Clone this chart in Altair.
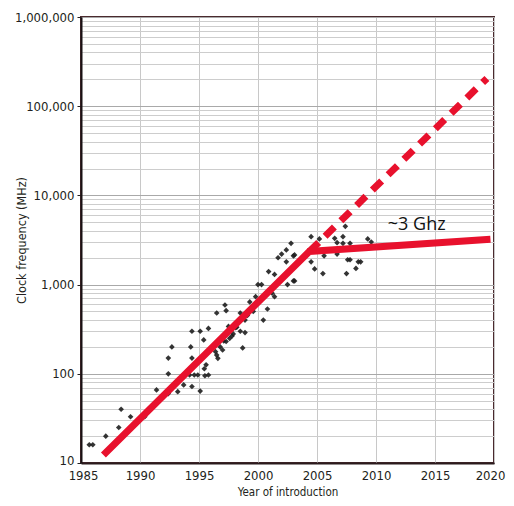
import altair as alt
import pandas as pd

# ---- data ----
years = [1985.7, 1986.0, 1987.1, 1988.2, 1988.4, 1989.2, 1990.4, 1991.4,
         1992.4, 1992.4, 1992.7, 1992.4, 1992.6, 1993.2, 1993.7,
         1994.3, 1994.4, 1994.4, 1994.2, 1994.6, 1994.4, 1994.9, 1995.1,
         1995.1, 1995.45, 1995.6, 1995.4, 1995.5, 1995.8, 1995.8,
         1996.5, 1996.3, 1996.4, 1996.5, 1996.6, 1996.8, 1997.0,
         1997.2, 1997.3, 1997.1, 1997.3, 1997.5, 1997.6, 1997.8,
         1998.5, 1998.2, 1998.5, 1998.9, 1998.7, 1998.9, 1999.1, 1999.3,
         1999.6, 1999.8, 2000.0, 2000.3, 2000.5, 2000.8, 2000.45,
         2001.4, 2001.2, 2000.9, 2001.4, 2002.5, 2003.0, 2001.7, 2002.0,
         2002.4, 2003.0, 2002.8, 2002.4, 2003.1, 2004.5, 2004.8, 2005.5,
         2005.6, 2006.7, 2007.5, 2007.6, 2007.8, 2008.3, 2008.5, 2008.7,
         2007.4, 2004.5, 2005.2, 2006.5, 2006.7, 2007.2, 2007.8, 2009.3,
         2009.6, 2007.2, 2003.1, 1997.9, 1998.1]
mhz = [16, 16, 20, 25, 40, 33, 33, 66,
       100, 150, 200, 60, 66, 63, 75,
       200, 300, 150, 97, 97, 72, 97, 64,
       300, 114, 126, 240, 95, 323, 97,
       480, 210, 177, 162, 149, 200, 185,
       590, 510, 233, 230, 340, 250, 266,
       480, 333, 300, 290, 195, 400, 450, 640,
       500, 733, 1000, 1000, 750, 533, 400,
       733, 800, 1400, 1300, 1000, 1100, 2000, 2200,
       1800, 2100, 2900, 2450, 2150, 1800, 1500, 1330,
       2100, 2200, 1330, 1900, 1900, 1520, 1800, 1800,
       4500, 3450, 3250, 3300, 2950, 2900, 2900, 3250,
       3000, 3450, 1100, 280, 330]

trend_years = [1986.9, 2004.35, 2019.7]
trend_mhz = [12.3, 2350, 3220]
proj_years = [2004.35, 2019.4]
proj_mhz = [2350, 205000]
label_year = [2011.0]
label_mhz = [4650]
label_text = ["~3 Ghz"]
x_ticks = [1985, 1990, 1995, 2000, 2005, 2010, 2015, 2020]
y_grid = [m * 10 ** k for k in range(1, 6) for m in range(1, 10)] + [1000000]

pts = pd.DataFrame({"year": years, "mhz": mhz})
trend = pd.DataFrame({"year": trend_years, "mhz": trend_mhz})
proj = pd.DataFrame({"year": proj_years, "mhz": proj_mhz})
lab = pd.DataFrame({"year": label_year, "mhz": label_mhz, "text": label_text})

FONT = "Liberation Sans Narrow, DejaVu Sans Condensed, sans-serif"
INK = "#231f20"
RED = "#e8112d"
MAJOR = "abs(log(datum.value)/LN10 - round(log(datum.value)/LN10)) < 0.001"

xs = alt.Scale(domain=[1985, 2020], nice=False, zero=False)
ys = alt.Scale(type="log", domain=[10, 1000000], nice=False)

x_axis = alt.Axis(
    values=x_ticks, format="d", title="Year of introduction",
    grid=True, gridColor="#c8c8c8", gridWidth=1,
    ticks=False, labelPadding=6, labelFlush=False, labelOverlap=False,
    labelOffset={"condition": [
        {"test": "datum.value >= 2020", "value": -4},
        {"test": "datum.value <= 1985", "value": 2},
    ], "value": 0},
    labelFont=FONT, labelFontSize=13, labelColor=INK,
    domainColor="#2b1b1d", domainWidth=2,
    titleFont=FONT, titleFontSize=11.5, titleFontWeight="normal", titleColor=INK,
    titleX=206.5, titleY=32, titleBaseline="alphabetic", titleAlign="center",
)
y_axis = alt.Axis(
    values=y_grid, title="Clock frequency (MHz)",
    labelExpr=f"{MAJOR} ? format(datum.value, ',') : ''",
    grid=True,
    gridColor={"condition": {"test": MAJOR, "value": "#a9a9a9"}, "value": "#cdcdcd"},
    gridWidth=1,
    ticks=True, tickSize=4, tickColor=INK,
    tickOpacity={"condition": {"test": MAJOR, "value": 1}, "value": 0},
    labelPadding=3, labelOverlap=False, labelBound=False, labelFlush=False,
    labelOffset={"condition": {"test": "datum.value <= 10", "value": -3}, "value": 0},
    labelFont=FONT, labelFontSize=13, labelColor=INK, labelBaseline="middle",
    domainColor="#1a1214", domainWidth=2,
    titleFont=FONT, titleFontSize=12.5, titleFontWeight="normal", titleColor=INK,
    titleX=-60, titleY=223, titleBaseline="middle", titleAlign="center",
)

def enc():
    return dict(
        x=alt.X("year:Q", scale=xs, axis=x_axis),
        y=alt.Y("mhz:Q", scale=ys, axis=y_axis),
    )

points = alt.Chart(pts).mark_point(
    shape="diamond", filled=True, size=32, color="#1e1e1e", opacity=0.9
).encode(**enc())

solid = alt.Chart(trend).mark_line(
    color=RED, strokeWidth=7, strokeCap="butt", strokeJoin="miter"
).encode(**enc())

dashed = alt.Chart(proj).mark_line(
    color=RED, strokeWidth=7, strokeCap="butt", strokeDash=[13, 9]
).encode(**enc())

text = alt.Chart(lab).mark_text(
    font="Open Sans", fontSize=18, align="left", baseline="middle", color="#111111"
).encode(text="text:N", **enc())

chart = alt.layer(points, solid, dashed, text).properties(
    width=413, height=446,
    autosize=alt.AutoSizeParams(type="none"),
    padding={"left": 73, "top": 9, "right": 12, "bottom": 35},
).configure_view(stroke="#4b2a2e", strokeWidth=2)

chart.save("out.html", embed_options={"renderer": "svg", "actions": False})
